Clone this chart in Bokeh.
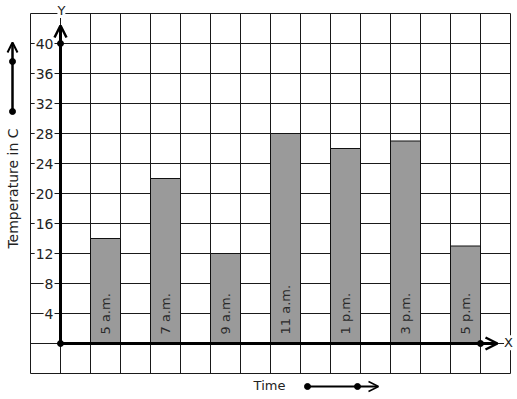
from bokeh.plotting import figure
from bokeh.models import Range1d, Arrow, OpenHead, Label, ColumnDataSource
from bokeh.embed import file_html
from bokeh.resources import INLINE
from bokeh.core.properties import value
import math

# ---- data ----
times = ["5 a.m.", "7 a.m.", "9 a.m.", "11 a.m.", "1 p.m.", "3 p.m.", "5 p.m."]
temps = [14, 22, 12, 28, 26, 27, 13]
y_ticks = [4, 8, 12, 16, 20, 24, 28, 32, 36, 40]
y_tick_labels = [str(t) for t in y_ticks]

# column layout: one column = 1 x-unit, bars in every other column
bar_x = [1.5 + 2 * i for i in range(len(times))]

# grid extent (in data units)
gx_min, gx_max = -1, 15
gy_min, gy_max = -4, 44

FONT = value("DejaVu Sans")

p = figure(width=517, height=399, output_backend="svg", toolbar_location=None,
           x_range=Range1d(-2, -2 + 517 / 30), y_range=Range1d(-56 / 7.5, 343 / 7.5),
           min_border=0)
p.axis.visible = False
p.grid.visible = False
p.outline_line_color = None
p.background_fill_color = "white"
p.border_fill_color = "white"

# grid
vx = list(range(gx_min, gx_max + 1))
p.segment(x0=vx, x1=vx, y0=[gy_min] * len(vx), y1=[gy_max] * len(vx),
          line_color="#1a1a1a", line_width=1)
hy = list(range(gy_min, gy_max + 1, 4))
p.segment(x0=[gx_min] * len(hy), x1=[gx_max] * len(hy), y0=hy, y1=hy,
          line_color="#1a1a1a", line_width=1)

# bars
src = ColumnDataSource(dict(x=bar_x, top=temps, label=times))
p.vbar(x="x", top="top", bottom=0, width=1, source=src,
       fill_color="#9a9a9a", line_color="#111111", line_width=1)
p.text(x="x", y=1.2, text="label", source=src, angle=math.pi / 2,
       text_align="left", text_baseline="middle", text_font=FONT,
       text_font_size="13px", text_color="#2a2a2a")

# y tick labels
p.text(x=[-0.2] * len(y_ticks), y=y_ticks, text=y_tick_labels,
       text_align="right", text_baseline="middle", text_font=FONT,
       text_font_size="14px", text_color="#222222",
       background_fill_color="white", padding=1)

# axes with arrows
y_top = (343 - 25) / 7.5
x_end = (497 - 60) / 30
p.add_layout(Arrow(x_start=0, y_start=0, x_end=0, y_end=y_top, line_width=3,
                   line_color="black",
                   end=OpenHead(size=12, line_width=2.5, line_color="black")))
p.add_layout(Arrow(x_start=0, y_start=0, x_end=x_end, y_end=0, line_width=3,
                   line_color="black",
                   end=OpenHead(size=12, line_width=2.5, line_color="black")))
p.scatter(x=[0, 0, len(times) * 2], y=[0, 40, 0], size=6, color="black")

p.add_layout(Label(x=0.03, y=(343 - 10) / 7.5, text="Y", text_align="center",
                   text_baseline="middle", text_font="DejaVu Sans",
                   text_font_size="13px", text_color="#222222",
                   background_fill_color="white"))
p.add_layout(Label(x=(508 - 60) / 30, y=0.1, text="X", text_align="center",
                   text_baseline="middle", text_font="DejaVu Sans",
                   text_font_size="13px", text_color="#222222",
                   background_fill_color="white"))

# left side indicator arrow
lx = (12 - 60) / 30
ly0 = (343 - 111) / 7.5
ly1 = (343 - 42) / 7.5
ly_mid = (343 - 61) / 7.5
p.add_layout(Arrow(x_start=lx, y_start=ly0, x_end=lx, y_end=ly1, line_width=2.5,
                   line_color="black",
                   end=OpenHead(size=10, line_width=2, line_color="black")))
p.scatter(x=[lx, lx], y=[ly0, ly_mid], size=6, color="black")

# y label
p.add_layout(Label(x=lx, y=(343 - 188) / 7.5, text="Temperature in C",
                   angle=math.pi / 2, text_align="center", text_baseline="middle",
                   text_font="DejaVu Sans", text_font_size="14px",
                   text_color="#222222"))

# x label and arrow
ty = (343 - 385) / 7.5
p.add_layout(Label(x=(269 - 60) / 30, y=ty, text="Time", text_align="center",
                   text_baseline="middle", text_font="DejaVu Sans",
                   text_font_size="13px", text_color="#222222"))
ax0 = (307 - 60) / 30
ax1 = (378 - 60) / 30
axm = (357 - 60) / 30
ay = (343 - 386) / 7.5
p.add_layout(Arrow(x_start=ax0, y_start=ay, x_end=ax1, y_end=ay, line_width=2,
                   line_color="black",
                   end=OpenHead(size=10, line_width=1.5, line_color="black")))
p.scatter(x=[ax0, axm], y=[ay, ay], size=6, color="black")

open("out.html", "w").write(file_html(p, INLINE))
